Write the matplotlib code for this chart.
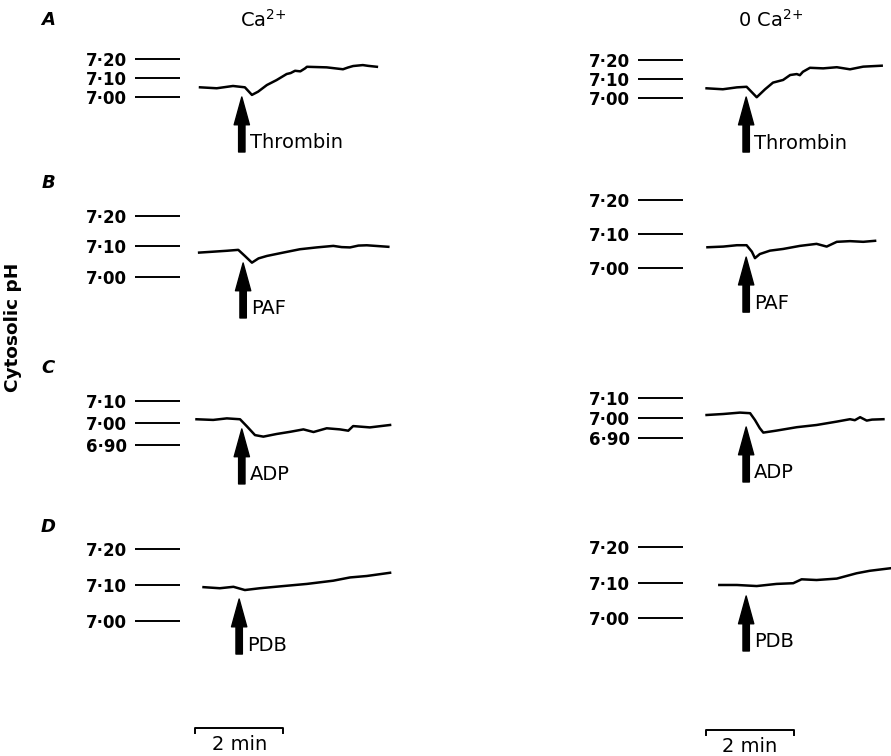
import matplotlib
matplotlib.use('Agg')
import matplotlib.pyplot as plt
from matplotlib.transforms import blended_transform_factory

plt.rcParams['font.family'] = ['DejaVu Sans']
plt.rcParams['mathtext.fontset'] = 'dejavusans'
plt.rcParams['mathtext.default'] = 'regular'

# ---- data (time in min from trace origin, cytosolic pH) ----
time_a_ca = [0, 0.38, 0.75, 1.02, 1.18, 1.32, 1.52, 1.74, 1.97, 2.06, 2.16, 2.28, 2.39, 2.43, 2.88, 3.25, 3.36, 3.48, 3.70, 3.82, 4.02]
ph_a_ca = [7.051, 7.046, 7.058, 7.051, 7.011, 7.028, 7.063, 7.089, 7.121, 7.126, 7.138, 7.135, 7.151, 7.159, 7.156, 7.146, 7.155, 7.163, 7.168, 7.164, 7.159]
time_a_0 = [-0.01, 0.36, 0.68, 0.90, 1.13, 1.32, 1.50, 1.73, 1.89, 2.04, 2.11, 2.18, 2.34, 2.64, 2.95, 3.25, 3.55, 3.97]
ph_a_0 = [7.051, 7.046, 7.056, 7.059, 7.004, 7.046, 7.081, 7.095, 7.121, 7.126, 7.120, 7.138, 7.159, 7.156, 7.162, 7.151, 7.165, 7.170]

time_b_ca = [-0.02, 0.30, 0.61, 0.87, 1.02, 1.18, 1.33, 1.52, 1.89, 2.27, 2.65, 3.03, 3.22, 3.41, 3.60, 3.79, 4.28]
ph_b_ca = [7.080, 7.083, 7.086, 7.089, 7.069, 7.047, 7.061, 7.069, 7.080, 7.091, 7.097, 7.102, 7.098, 7.097, 7.103, 7.104, 7.099]
time_b_0 = [0.01, 0.37, 0.68, 0.90, 1.02, 1.09, 1.20, 1.43, 1.73, 2.11, 2.49, 2.72, 2.95, 3.25, 3.55, 3.82]
ph_b_0 = [7.061, 7.063, 7.067, 7.067, 7.048, 7.029, 7.041, 7.051, 7.056, 7.065, 7.071, 7.063, 7.077, 7.079, 7.077, 7.080]

time_c_ca = [-0.08, 0.30, 0.61, 0.91, 1.06, 1.25, 1.44, 1.74, 2.05, 2.35, 2.58, 2.88, 3.18, 3.37, 3.48, 3.86, 4.32]
ph_c_ca = [7.017, 7.014, 7.021, 7.017, 6.986, 6.945, 6.938, 6.950, 6.960, 6.971, 6.959, 6.976, 6.971, 6.965, 6.986, 6.980, 6.991]
time_c_0 = [-0.01, 0.37, 0.75, 0.98, 1.09, 1.20, 1.28, 1.58, 2.04, 2.49, 2.95, 3.25, 3.36, 3.48, 3.63, 3.75, 4.01]
ph_c_0 = [7.015, 7.020, 7.027, 7.024, 6.990, 6.949, 6.927, 6.937, 6.954, 6.965, 6.982, 6.994, 6.989, 7.004, 6.987, 6.992, 6.994]

time_d_ca = [0.08, 0.45, 0.76, 1.02, 1.36, 1.89, 2.43, 3.03, 3.41, 3.79, 4.32]
ph_d_ca = [7.094, 7.091, 7.095, 7.086, 7.091, 7.097, 7.103, 7.112, 7.121, 7.125, 7.134]
time_d_0 = [0.28, 0.68, 1.13, 1.58, 1.96, 2.15, 2.49, 2.95, 3.40, 3.70, 4.16]
ph_d_0 = [7.093, 7.093, 7.090, 7.096, 7.098, 7.109, 7.107, 7.111, 7.126, 7.133, 7.140]

ticks_abd = [7.00, 7.10, 7.20]
ticks_c = [6.90, 7.00, 7.10]
labels_abd = ['7·00', '7·10', '7·20']
labels_c = ['6·90', '7·00', '7·10']

agonists = ['Thrombin', 'PAF', 'ADP', 'PDB']
panel_letters = ['A', 'B', 'C', 'D']
column_titles = ['Ca$^{2{+}}$', '0 Ca$^{2{+}}$']

# arrow (time of addition, pH of arrow tip)
arrow_time = {'a_ca': 0.95, 'a_0': 0.89, 'b_ca': 0.98, 'b_0': 0.89,
              'c_ca': 0.95, 'c_0': 0.89, 'd_ca': 0.89, 'd_0': 0.89}
arrow_tip = {'a_ca': 7.000, 'a_0': 7.005, 'b_ca': 7.046, 'b_0': 7.032,
             'c_ca': 6.973, 'c_0': 6.955, 'd_ca': 7.061, 'd_0': 7.062}

scale_bar_min = 2

# ---- layout (pixels) ----
W, H = 891, 756
DPI = 100
PX_PER_MIN = 44.0
col_left = [180, 683]      # axes left edge = right end of pH scale lines
col_right = [400, 891]
col_origin = [200, 707]    # pixel of time zero
# per panel: pixel of pH 7.00, pixels per 0.1 pH, axes top, axes bottom
rows = [
    {'a_ca': (97, 19), 'a_0': (98, 19), 'top': 40, 'bot': 160},
    {'b_ca': (277, 30.5), 'b_0': (268, 34), 'top': 190, 'bot': 325},
    {'c_ca': (423, 22), 'c_0': (418, 20), 'top': 380, 'bot': 490},
    {'d_ca': (621, 36), 'd_0': (618, 35.5), 'top': 535, 'bot': 665},
]
series = {
    'a_ca': (time_a_ca, ph_a_ca), 'a_0': (time_a_0, ph_a_0),
    'b_ca': (time_b_ca, ph_b_ca), 'b_0': (time_b_0, ph_b_0),
    'c_ca': (time_c_ca, ph_c_ca), 'c_0': (time_c_0, ph_c_0),
    'd_ca': (time_d_ca, ph_d_ca), 'd_0': (time_d_0, ph_d_0),
}


def fx(px):
    return px / W


def fy(py):
    return 1 - py / H


fig = plt.figure(figsize=(W / DPI, H / DPI), dpi=DPI)
bottom_axes = []

for r, row in enumerate(rows):
    letter = panel_letters[r].lower()
    for c, suffix in enumerate(['ca', '0']):
        key = f'{letter}_{suffix}'
        y0, ppu = row[key]
        ax = fig.add_axes([fx(col_left[c]), fy(row['bot']),
                           fx(col_right[c] - col_left[c]), (row['bot'] - row['top']) / H])
        ax.set_xlim((col_left[c] - col_origin[c]) / PX_PER_MIN,
                    (col_right[c] - col_origin[c]) / PX_PER_MIN)
        ax.set_ylim(7.0 + (y0 - row['bot']) / ppu * 0.1,
                    7.0 + (y0 - row['top']) / ppu * 0.1)
        ax.patch.set_visible(False)
        for sp in ax.spines.values():
            sp.set_visible(False)
        ax.set_xticks([])
        if letter == 'c':
            ax.set_yticks(ticks_c, labels_c)
        else:
            ax.set_yticks(ticks_abd, labels_abd)
        ax.tick_params(axis='y', direction='out', length=45 * 72 / DPI, width=1.4,
                       pad=5.5, labelsize=12)
        for lbl in ax.get_yticklabels():
            lbl.set_fontweight('bold')

        t, ph = series[key]
        ax.plot(t, ph, color='black', lw=1.8, clip_on=False, solid_joinstyle='round')

        ta, tip = arrow_time[key], arrow_tip[key]
        ax.annotate('', xy=(ta, tip), xytext=(0, -55), textcoords='offset pixels',
                    xycoords='data',
                    arrowprops=dict(facecolor='black', edgecolor='black', width=4.6,
                                    headwidth=11, headlength=20, shrink=0))
        ax.annotate(agonists[r], xy=(ta, tip), xytext=(8, -46), textcoords='offset pixels',
                    ha='left', va='center', fontsize=14)
        if r == len(rows) - 1:
            bottom_axes.append(ax)

# panel letters
for letter, py in zip(panel_letters, [20, 183, 368, 527]):
    fig.text(fx(48), fy(py), letter, fontsize=13, fontweight='bold', fontstyle='italic',
             ha='center', va='center')

# column titles
fig.text(fx(263), fy(20), column_titles[0], fontsize=14, ha='center', va='center')
fig.text(fx(771), fy(20), column_titles[1], fontsize=14, ha='center', va='center')

# y label
fig.text(fx(13), fy(327), 'Cytosolic pH', rotation=90, fontsize=13.3, fontweight='bold',
         ha='center', va='center')

# 2 min scale bars
for ax, start, py in zip(bottom_axes, [-0.11, -0.02], [728, 730]):
    tr = blended_transform_factory(ax.transData, fig.transFigure)
    ax.plot([start, start, start + scale_bar_min, start + scale_bar_min],
            [fy(py + 5), fy(py), fy(py), fy(py + 5)],
            color='black', lw=1.4, transform=tr, clip_on=False)
    ax.text(start + scale_bar_min / 2, fy(py + 17), f'{scale_bar_min} min', transform=tr,
            ha='center', va='center', fontsize=14)

fig.savefig('out.png', dpi=DPI, facecolor='white')
